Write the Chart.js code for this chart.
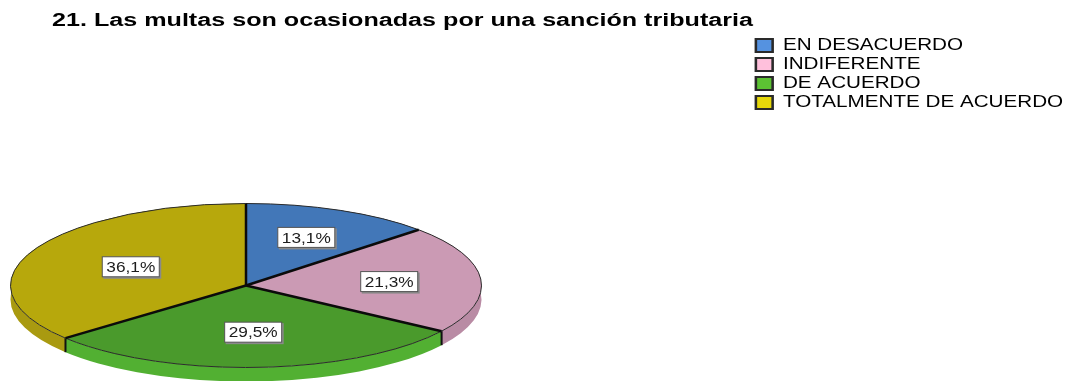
<!DOCTYPE html>
<html>
<head>
<meta charset="utf-8">
<title>Multas</title>
<script src="https://cdn.jsdelivr.net/npm/chart.js@4"></script>
<style>
    html, body { margin: 0; padding: 0; background: #fff; overflow: hidden; }
    canvas { display: block; }
</style>
</head>
<body>
<canvas id="myChart" width="1067" height="381"></canvas>
<script>
const CATEGORIES = ['EN DESACUERDO', 'INDIFERENTE', 'DE ACUERDO', 'TOTALMENTE DE ACUERDO'];
const PERCENTS = [13.1, 21.3, 29.5, 36.1];
const TITLE = '21. Las multas son ocasionadas por una sanción tributaria';

const TOP_COLORS = ['#4277b8', '#cb9ab4', '#4a9a2c', '#b7a80c'];
const RIM_COLORS = ['#3a689f', '#b98ba4', '#52b032', '#a99a10'];
const LEGEND_COLORS = ['#5592e0', '#ffc0dc', '#5cc233', '#e6d80a'];
const LABEL_RADII = [0.64, 0.61, 0.57, 0.54];

// the flat pie gets tilted onto an ellipse with a thin side wall
const PIE = {cx: 246, cy: 285.5, rx: 235.5, ry: 82, depth: 14};

function tilt(ctx, arc) {
    ctx.translate(PIE.cx, PIE.cy);
    ctx.scale(PIE.rx / arc.outerRadius, PIE.ry / arc.outerRadius);
    ctx.translate(-arc.x, -arc.y);
}

function drawRim(chart) {
    const ctx = chart.ctx;
    const arcs = chart.getDatasetMeta(0).data;
    const drop = PIE.depth * arcs[0].outerRadius / PIE.ry;

    arcs.forEach((arc, i) => {
        ctx.save();
        tilt(ctx, arc);
        ctx.beginPath();
        ctx.arc(arc.x, arc.y, arc.outerRadius, arc.startAngle, arc.endAngle);
        ctx.arc(arc.x, arc.y + drop, arc.outerRadius, arc.endAngle, arc.startAngle, true);
        ctx.closePath();
        ctx.fillStyle = RIM_COLORS[i];
        ctx.fill();
        ctx.restore();
    });

    // slice seams running down the visible part of the wall
    ctx.strokeStyle = '#111';
    ctx.lineWidth = 2;
    arcs.forEach((arc) => {
        if (Math.sin(arc.endAngle) <= 0) return;
        const x = PIE.cx + PIE.rx * Math.cos(arc.endAngle);
        const y = PIE.cy + PIE.ry * Math.sin(arc.endAngle);
        ctx.beginPath();
        ctx.moveTo(x, y);
        ctx.lineTo(x, y + PIE.depth);
        ctx.stroke();
    });
}

function drawOutlines(chart) {
    const ctx = chart.ctx;
    chart.getDatasetMeta(0).data.forEach((arc) => {
        // path under the tilt, stroke without it so the pen stays round
        ctx.save();
        tilt(ctx, arc);
        ctx.beginPath();
        ctx.arc(arc.x, arc.y, arc.outerRadius, arc.startAngle, arc.endAngle);
        ctx.restore();
        ctx.strokeStyle = '#2b2b2b';
        ctx.lineWidth = 1;
        ctx.stroke();

        ctx.save();
        tilt(ctx, arc);
        ctx.beginPath();
        ctx.moveTo(arc.x + arc.outerRadius * Math.cos(arc.startAngle), arc.y + arc.outerRadius * Math.sin(arc.startAngle));
        ctx.lineTo(arc.x, arc.y);
        ctx.restore();
        ctx.strokeStyle = '#0b0b0b';
        ctx.lineWidth = 2.5;
        ctx.stroke();
    });
}

function drawValueLabels(chart) {
    const ctx = chart.ctx;
    chart.getDatasetMeta(0).data.forEach((arc, i) => {
        const mid = (arc.startAngle + arc.endAngle) / 2;
        const x = PIE.cx + PIE.rx * LABEL_RADII[i] * Math.cos(mid);
        const y = PIE.cy + PIE.ry * LABEL_RADII[i] * Math.sin(mid);
        const w = 57, h = 20;

        ctx.fillStyle = '#8a8a8a';
        ctx.fillRect(x - w / 2 + 1, y - h / 2 + 1, w + 1, h + 1);
        ctx.fillStyle = '#fff';
        ctx.fillRect(x - w / 2, y - h / 2, w, h);
        ctx.strokeStyle = '#555';
        ctx.lineWidth = 1;
        ctx.strokeRect(x - w / 2, y - h / 2, w, h);

        ctx.save();
        ctx.translate(x, y + 1);
        ctx.scale(1.15, 1);
        ctx.font = '15px "Liberation Sans"';
        ctx.fillStyle = '#1c1c1c';
        ctx.textAlign = 'center';
        ctx.textBaseline = 'middle';
        ctx.fillText(PERCENTS[i].toFixed(1).replace('.', ',') + '%', 0, 0);
        ctx.restore();
    });
}

// widens a layout box sideways from its left edge
function stretchBox(box, ctx, sx) {
    const draw = box.draw;
    box.draw = function (area) {
        ctx.save();
        ctx.translate(box.left, 0);
        ctx.scale(sx, 1);
        ctx.translate(-box.left, 0);
        draw.call(box, area);
        ctx.restore();
    };
}

const tiltedPie = {
    id: 'tiltedPie',
    afterInit(chart) {
        stretchBox(chart.titleBlock, chart.ctx, 1.396);
        stretchBox(chart.legend, chart.ctx, 1.29);
    },
    afterLayout(chart) {
        const title = chart.titleBlock;
        title.left = 52;
        title.right = 1067;
        title.top = 10;
        title.bottom = 32;

        const legend = chart.legend;
        legend.left = 752;
        legend.right = 1067;
        legend.top = 34.5;
    },
    beforeDatasetsDraw(chart) {
        drawRim(chart);
        const arc = chart.getDatasetMeta(0).data[0];
        chart.ctx.save();
        tilt(chart.ctx, arc);
    },
    afterDatasetsDraw(chart) {
        chart.ctx.restore();
        drawOutlines(chart);
        drawValueLabels(chart);
    }
};

const data = {
    labels: CATEGORIES,
    datasets: [
        {
            data: PERCENTS,
            backgroundColor: TOP_COLORS,
            borderWidth: 0,
            clip: false,
        }
    ]
};

const config = {
    type: 'pie',
    data: data,
    options: {
        responsive: false,
        animation: false,
        plugins: {
            tooltip: {enabled: false},
            title: {
                display: true,
                text: TITLE,
                align: 'start',
                color: '#000',
                font: {family: '"Liberation Sans"', size: 18, weight: 'bold'},
                padding: 0,
            },
            legend: {
                position: 'chartArea',
                align: 'start',
                labels: {
                    boxWidth: 13,
                    boxHeight: 13,
                    padding: 3,
                    color: '#222',
                    font: {family: '"Liberation Sans"', size: 16},
                    generateLabels: () => CATEGORIES.map((text, i) => ({
                        text: text,
                        fillStyle: LEGEND_COLORS[i],
                        strokeStyle: '#2a2a2a',
                        lineWidth: 2,
                        index: i,
                    })),
                },
            },
        },
    },
    plugins: [tiltedPie],
};

const ctx = document.getElementById('myChart');
const myChart = new Chart(ctx, config);
</script>
</body>
</html>
